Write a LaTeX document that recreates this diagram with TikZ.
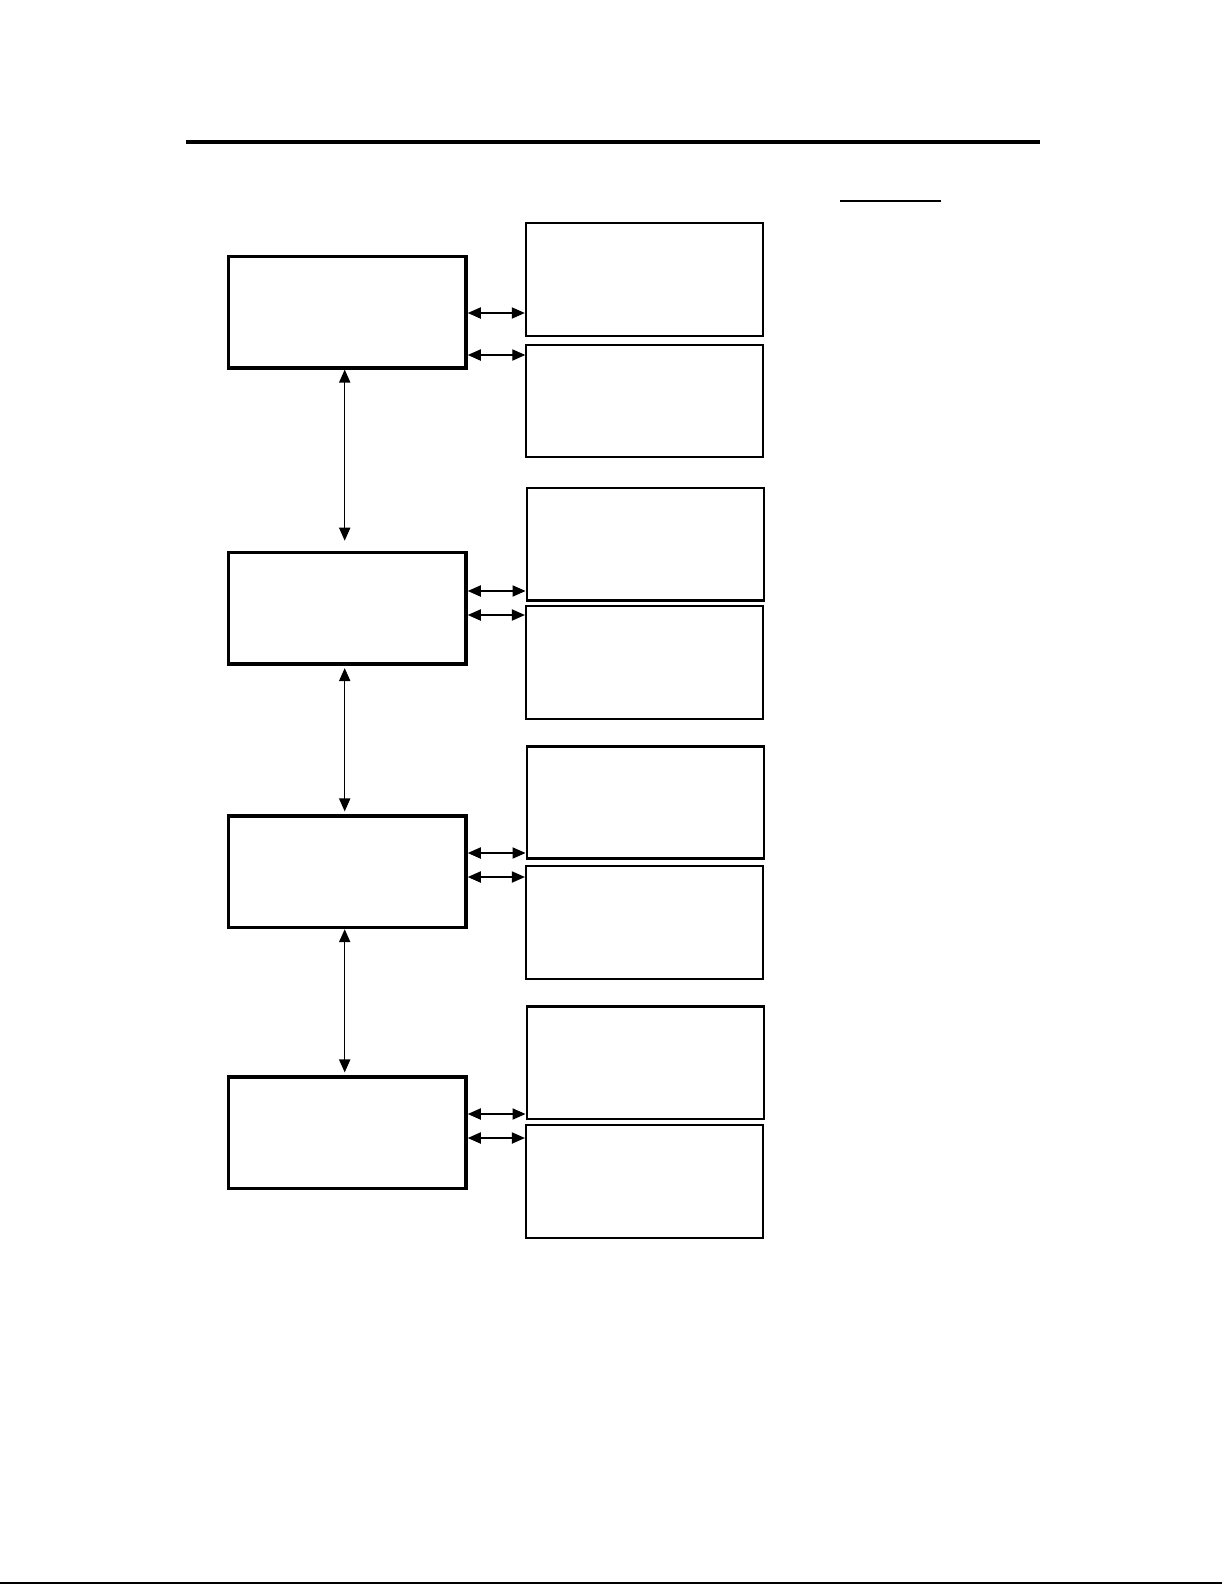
\documentclass[tikz,border=0pt]{standalone}
\usetikzlibrary{arrows.meta}
\begin{document}
\begin{tikzpicture}[x=0.5pt,y=-0.5pt,
  mainbox/.style={draw,line width=1.8pt,minimum width=118.7pt,minimum height=55.6pt,inner sep=0pt},
  sidebox/.style={draw,line width=1pt,minimum width=118.5pt,minimum height=56.2pt,inner sep=0pt},
  link/.style={line width=0.65pt,{Triangle[length=6.5pt,width=5.6pt]}-{Triangle[length=6.5pt,width=5.6pt]}}]
\useasboundingbox (0,0) rectangle (1225,1585);
% rules
\draw[line width=2pt] (186,142) -- (1040,142);
\draw[line width=1.15pt] (840,200.7) -- (940.7,200.7);
\draw[line width=0.75pt] (0,1583) -- (1222,1583);
% main boxes
\node[mainbox] (b1) at (347.3,312.2) {};
\node[mainbox] (b2) at (347.3,608.1) {};
\node[mainbox] (b3) at (347.3,871.8) {};
\node[mainbox] (b4) at (347.3,1132.8) {};
% side boxes
\node[sidebox] (r1) at (644.3,279.6) {};
\node[sidebox] (r2) at (644.8,401) {};
\node[sidebox,line width=1.3pt] (r3) at (645.3,544.2) {};
\node[sidebox] (r4) at (644.4,662.4) {};
\node[sidebox,line width=1.3pt] (r5) at (645.3,802.4) {};
\node[sidebox] (r6) at (644.4,922.5) {};
\node[sidebox,line width=1.3pt] (r7) at (645.3,1062.7) {};
\node[sidebox] (r8) at (644.4,1181.5) {};
% vertical links
\draw[link,shorten >=5pt] ([xshift=-1.3pt]b1.south) -- ([xshift=-1.3pt]b2.north);
\draw[link,shorten <=1.3pt,shorten >=1.5pt] ([xshift=-1.3pt]b2.south) -- ([xshift=-1.3pt]b3.north);
\draw[link,shorten >=1.5pt] ([xshift=-1.3pt]b3.south) -- ([xshift=-1.3pt]b4.north);
% horizontal links
\draw[link] (b1.east |- 0,313) -- (r1.west |- 0,313);
\draw[link] (b1.east |- 0,355) -- (r2.west |- 0,355);
\draw[link] (b2.east |- 0,591) -- (r3.west |- 0,591);
\draw[link] (b2.east |- 0,615) -- (r4.west |- 0,615);
\draw[link] (b3.east |- 0,853) -- (r5.west |- 0,853);
\draw[link] (b3.east |- 0,877) -- (r6.west |- 0,877);
\draw[link] (b4.east |- 0,1114) -- (r7.west |- 0,1114);
\draw[link] (b4.east |- 0,1138) -- (r8.west |- 0,1138);
\end{tikzpicture}
\end{document}
